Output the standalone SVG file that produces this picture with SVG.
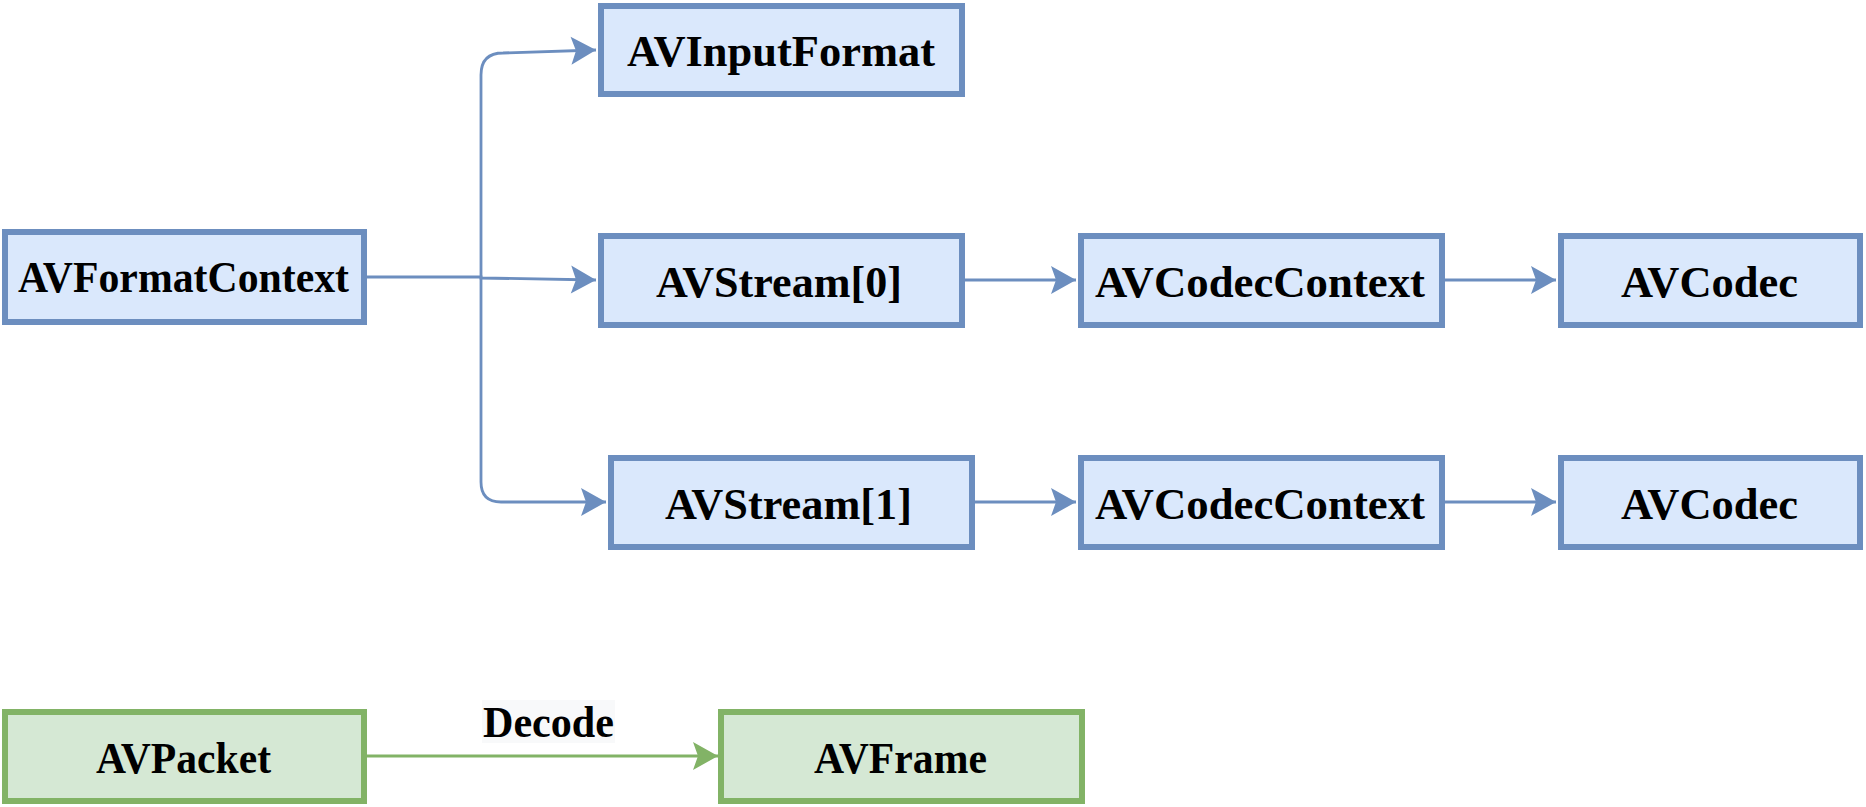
<svg xmlns="http://www.w3.org/2000/svg" width="1866" height="807" viewBox="0 0 1866 807">
<style>
.b rect{fill:#dae8fc;stroke:#6c8ebf;stroke-width:6}
.g rect{fill:#d5e8d4;stroke:#82b366;stroke-width:6}
text{font-family:"Liberation Serif","Times New Roman",serif;font-weight:bold;font-size:45px;fill:#000;text-anchor:middle}
.cb{fill:none;stroke:#6c8ebf;stroke-width:2.8}
.cg{fill:none;stroke:#82b366;stroke-width:2.8}
</style>
<defs>
<marker id="ab" markerUnits="userSpaceOnUse" markerWidth="26" markerHeight="28" refX="25" refY="14" orient="auto" overflow="visible">
<path d="M0,0 L25,14 L0,28 L5,14 Z" fill="#6c8ebf"/>
</marker>
<marker id="ag" markerUnits="userSpaceOnUse" markerWidth="26" markerHeight="28" refX="25" refY="14" orient="auto" overflow="visible">
<path d="M0,0 L25,14 L0,28 L5,14 Z" fill="#82b366"/>
</marker>
</defs>
<rect width="1866" height="807" fill="#fff"/>
<g id="connectors">
<path class="cb" d="M367,277 L481,277 L481,278 L596,280" marker-end="url(#ab)"/>
<path class="cb" d="M481,278 V75 Q481,53 503,53 L596,50" marker-end="url(#ab)"/>
<path class="cb" d="M481,278 V482 Q481,502 501,502 L606,502" marker-end="url(#ab)"/>
<path class="cb" d="M965,280 L1076,280" marker-end="url(#ab)"/>
<path class="cb" d="M1445,280 L1556,280" marker-end="url(#ab)"/>
<path class="cb" d="M975,502 L1076,502" marker-end="url(#ab)"/>
<path class="cb" d="M1445,502 L1556,502" marker-end="url(#ab)"/>
<path class="cg" d="M367,756 L718,756" marker-end="url(#ag)"/>
<g id="label-decode">
<rect x="482" y="700" width="133" height="43" fill="#f8f9fa"/>
<text x="548.5" y="737" textLength="131" lengthAdjust="spacingAndGlyphs">Decode</text>
</g>
</g>
<g id="n-avformatcontext" class="b"><rect x="5" y="232" width="359" height="90"/><text x="183.5" y="292" textLength="331" lengthAdjust="spacingAndGlyphs">AVFormatContext</text></g>
<g id="n-avinputformat" class="b"><rect x="601" y="6" width="361" height="88"/><text x="781" y="66" textLength="308" lengthAdjust="spacingAndGlyphs">AVInputFormat</text></g>
<g id="n-avstream0" class="b"><rect x="601" y="236" width="361" height="89"/><text x="779" y="297" textLength="246" lengthAdjust="spacingAndGlyphs">AVStream[0]</text></g>
<g id="n-avcodeccontext0" class="b"><rect x="1081" y="236" width="361" height="89"/><text x="1260" y="297" textLength="330" lengthAdjust="spacingAndGlyphs">AVCodecContext</text></g>
<g id="n-avcodec0" class="b"><rect x="1561" y="236" width="299" height="89"/><text x="1709.5" y="297" textLength="177" lengthAdjust="spacingAndGlyphs">AVCodec</text></g>
<g id="n-avstream1" class="b"><rect x="611" y="458" width="361" height="89"/><text x="788.5" y="519" textLength="247" lengthAdjust="spacingAndGlyphs">AVStream[1]</text></g>
<g id="n-avcodeccontext1" class="b"><rect x="1081" y="458" width="361" height="89"/><text x="1260" y="519" textLength="330" lengthAdjust="spacingAndGlyphs">AVCodecContext</text></g>
<g id="n-avcodec1" class="b"><rect x="1561" y="458" width="299" height="89"/><text x="1709.5" y="519" textLength="177" lengthAdjust="spacingAndGlyphs">AVCodec</text></g>
<g id="n-avpacket" class="g"><rect x="5" y="712" width="359" height="89"/><text x="183.5" y="773" textLength="175" lengthAdjust="spacingAndGlyphs">AVPacket</text></g>
<g id="n-avframe" class="g"><rect x="721" y="712" width="361" height="89"/><text x="900.5" y="773" textLength="173" lengthAdjust="spacingAndGlyphs">AVFrame</text></g>
</svg>
